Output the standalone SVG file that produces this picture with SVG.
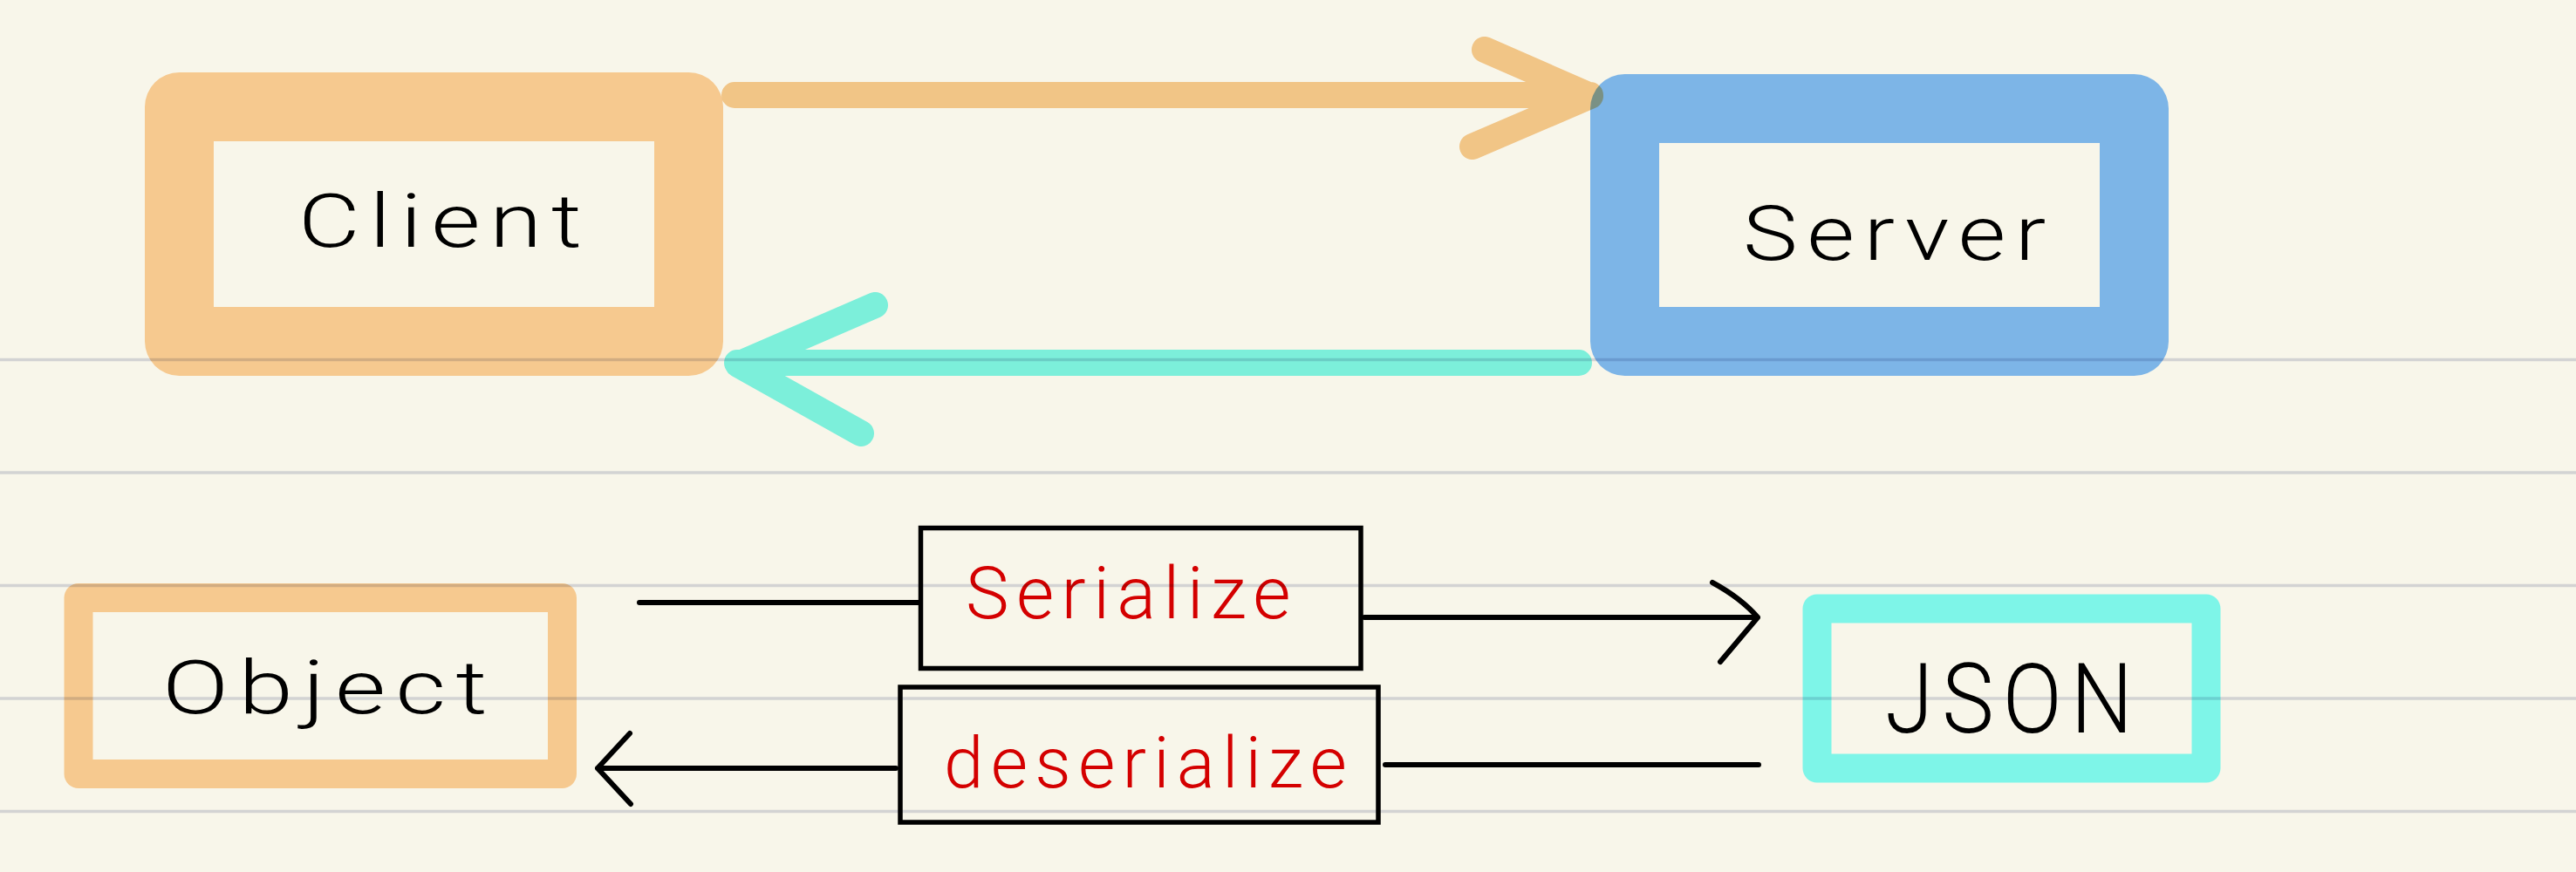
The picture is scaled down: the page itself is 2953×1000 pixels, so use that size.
<svg xmlns="http://www.w3.org/2000/svg" width="2953" height="1000" viewBox="0 0 2953 1000">
<style>
.bg{fill:#F8F6EA}
.rule{stroke:#D9DBE6;stroke-width:3.5;mix-blend-mode:multiply}
.box{fill:none;stroke-linejoin:round}
.thick{stroke-width:79}
.thin{stroke-width:33}
.orange{stroke:#F6C98F}
.blue{stroke:#7DB5E7}
.cyan{stroke:#7EF5E8}
.hlarrow{fill:none;stroke-width:30;stroke-linecap:round;stroke-linejoin:round;mix-blend-mode:multiply}
.oarrow{stroke:#F8CC92}
.carrow{stroke:#80F8EE}
.frame{fill:none;stroke:#000;stroke-width:5.5;stroke-linejoin:miter}
.conn{fill:none;stroke:#000;stroke-width:6;stroke-linecap:round;stroke-linejoin:round}
.label{font-family:Roboto,"Liberation Sans",sans-serif;font-weight:300;fill:#000;letter-spacing:0.1em}
.red{fill:#D40000}
</style>
<rect class="bg" x="0" y="0" width="2953" height="1000"/>

<g id="client">
<rect class="box thick orange" x="205.5" y="122.5" width="584" height="269"/>
<text class="label" x="342" y="283" font-size="86" textLength="336" lengthAdjust="spacingAndGlyphs">Client</text>
</g>

<g id="server">
<rect class="box thick blue" x="1862.5" y="124.5" width="584" height="267"/>
<text class="label" x="1998" y="298" font-size="88" textLength="358" lengthAdjust="spacingAndGlyphs">Server</text>
</g>

<g id="object">
<rect class="box thin orange" x="90" y="685.5" width="554.5" height="202"/>
<text class="label" x="186" y="818" font-size="86" textLength="384" lengthAdjust="spacingAndGlyphs">Object</text>
</g>

<g id="json">
<rect class="box thin cyan" x="2083" y="698" width="446" height="183"/>
<text class="label" x="2161" y="840" font-size="112" textLength="294" lengthAdjust="spacingAndGlyphs">JSON</text>
</g>

<g id="serialize">
<rect class="frame" x="1055.5" y="605.5" width="504.5" height="161"/>
<text class="label red" x="1107" y="709" font-size="84" textLength="381" lengthAdjust="spacingAndGlyphs">Serialize</text>
</g>

<g id="deserialize">
<rect class="frame" x="1032" y="788" width="548" height="155"/>
<text class="label red" x="1082" y="903" font-size="82" textLength="470" lengthAdjust="spacingAndGlyphs">deserialize</text>
</g>

<g id="connectors">
<path class="hlarrow oarrow" d="M842,109 L1823,109 M1702,57 L1823,110 L1688,168"/>
<path class="hlarrow carrow" d="M1810,416 L845,416 M1003,350 L846,418 L987,497"/>
<path class="conn" d="M733,691 L1053,691"/>
<path class="conn" d="M1564,708 L2015,708 M1963,668 Q1996,686 2015,708 L1972,759"/>
<path class="conn" d="M2016,877 L1588,877"/>
<path class="conn" d="M1027,881 L685,881 M722,841 L685,881 L723,922"/>
</g>

<g id="rules">
<line class="rule" x1="0" y1="412.5" x2="2953" y2="412.5"/>
<line class="rule" x1="0" y1="542" x2="2953" y2="542"/>
<line class="rule" x1="0" y1="671.5" x2="2953" y2="671.5"/>
<line class="rule" x1="0" y1="801" x2="2953" y2="801"/>
<line class="rule" x1="0" y1="930.5" x2="2953" y2="930.5"/>
</g>
</svg>
